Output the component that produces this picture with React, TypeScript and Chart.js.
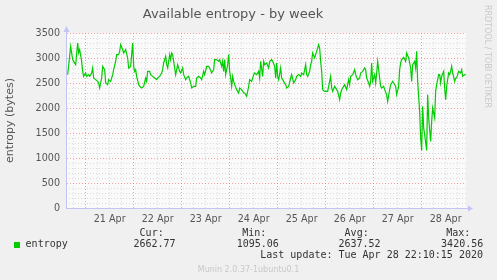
import React, { useEffect, useRef } from "react";
import { Chart, registerables } from "chart.js";

Chart.register(...registerables);

// Hours since 20 Apr 2020 00:00
const hours = [
  15, 16.5, 17.5, 18, 19, 20, 20.5, 21, 22, 22.5, 23, 24, 24.5, 25.5, 26, 27, 27.5, 28, 29, 30, 30.5, 31, 32, 32.5, 33.5, 34, 35, 35.5, 36.5, 37.5, 38, 39, 39.5, 40.5, 41, 41.5, 42.5, 43, 44, 45, 45.5, 46.5, 47.5,
  48, 48.5, 49, 49.5, 50.5, 51.5, 52, 53, 54, 54.5, 55, 56, 56.5, 57.5, 58.5, 59.5, 60, 61, 62, 62.5, 63, 64, 64.5, 65, 66, 66.5, 67, 67.5, 68, 68.5, 69, 70, 71, 71.5, 72.5, 73, 74, 74.5, 75.5, 76.5, 77, 78, 79, 79.5, 80.5, 81.5,
  82, 83, 83.5, 84.5, 85.5, 86, 87, 88, 88.5, 89.5, 90.5, 91, 92, 92.5, 93, 93.5, 94, 95, 95.5, 96, 96.5, 97, 97.5, 98, 98.5, 99.5, 100.5, 101, 102, 103, 103.5, 104.5, 105.5, 106, 107, 108, 108.5, 109.5, 110.5, 111, 111.5, 112.5, 113, 113.5, 114.5, 115.5,
  116, 117, 117.5, 118.5, 119, 119.5, 120, 120.5, 121.5, 122, 122.5, 123, 124, 124.5, 125.5, 126.5, 127, 128, 129, 129.5, 130.5, 131.5, 132, 133, 134, 134.5, 135, 136, 136.5, 137, 137.5, 138.5, 139, 139.5, 140.5, 141, 141.5, 142, 142.5, 143.5, 144.5, 145, 146, 146.5, 147, 147.5, 148.5, 149.5,
  150, 151, 151.5, 152, 153, 153.5, 154.5, 155.5, 156, 156.5, 157.5, 158.5, 159, 160, 161, 161.5, 162.5, 163.5, 164, 164.5, 165.5, 166, 166.5, 167, 167.5, 168.5, 169, 169.5, 170, 171, 171.5, 172, 173, 173.5, 174.5, 175, 176, 176.5, 177.5, 178, 179, 179.5, 180.5, 181, 181.5,
  182, 183, 184, 184.5, 185.5, 186.5, 187, 187.5, 188.5, 189, 189.5, 190, 191, 191.5, 192, 192.5, 193, 193.5, 194.5, 195, 195.5, 196.5, 197, 197.5, 198.5, 199, 199.5, 200.5, 201, 201.5, 202, 203, 203.5, 204, 204.5, 205.5, 206, 206.5, 207, 207.5, 208.5, 209, 209.5, 210.5, 211.5, 212, 212.5, 213.5, 214,
];

const entropy = [
  2666, 3233, 2967, 2933, 2867, 3300, 3100, 3167, 2933, 2733, 2633, 2700, 2633, 2667, 2633, 2700, 2800, 2600, 2567, 2533, 2500, 2400, 2600, 2833, 2767, 2500, 2467, 2567, 2533, 2667, 2767, 2933, 3067, 3067, 3133, 3267, 3167, 3100, 3167, 3000, 2800, 2833, 3300,
  2833, 2733, 2767, 2633, 2467, 2413, 2400, 2433, 2600, 2533, 2733, 2733, 2667, 2633, 2600, 2567, 2600, 2633, 2700, 2767, 2900, 3033, 2867, 2800, 3067, 2967, 3100, 3067, 2933, 2800, 2667, 2867, 2733, 2700, 2800, 2667, 2567, 2600, 2633, 2500, 2400, 2433, 2433, 2600, 2633, 2600,
  2567, 2733, 2667, 2833, 2833, 2800, 2700, 2767, 2967, 2967, 2933, 2967, 2833, 2933, 2733, 2967, 2667, 2867, 3067, 2733, 2600, 2433, 2633, 2533, 2467, 2367, 2300, 2400, 2367, 2300, 2300, 2233, 2433, 2567, 2533, 2667, 2700, 2667, 2733, 2600, 2933, 2633, 2933, 2867, 2900, 2800,
  2933, 2967, 2933, 2833, 2600, 2900, 2633, 2567, 2800, 2600, 2567, 2533, 2467, 2400, 2433, 2600, 2667, 2500, 2567, 2633, 2667, 2633, 2700, 2667, 2867, 2667, 2633, 2733, 2867, 2933, 3100, 3000, 3067, 3133, 3267, 3200, 2933, 2733, 2367, 2333, 2333, 2333, 2533, 2633, 2400, 2333, 2433, 2367,
  2333, 2167, 2300, 2367, 2433, 2467, 2367, 2567, 2467, 2633, 2667, 2767, 2667, 2567, 2600, 2700, 2733, 2800, 2767, 2600, 2500, 2433, 2533, 2900, 2533, 2667, 2500, 2700, 2933, 2600, 2433, 2400, 2433, 2367, 2267, 2133, 2367, 2467, 2533, 2500, 2433, 2267, 2433, 2767, 2900,
  2967, 3013, 2933, 3100, 3000, 2800, 2533, 2867, 2933, 2800, 3133, 2533, 1933, 1400, 1150, 2033, 1600, 1467, 1150, 2267, 1800, 1333, 1733, 2000, 1800, 2333, 2467, 2667, 2667, 2500, 2633, 2733, 2400, 2167, 2433, 2700, 2667, 2733, 2833, 2700, 2533, 2600, 2600, 2733, 2700, 2767, 2633, 2667, 2663,
];

const xStartHour = 14.17;
const xEndHour = 214.17;
const dayTickHours = [36, 60, 84, 108, 132, 156, 180, 204];
const dayTickLabels = ["21 Apr", "22 Apr", "23 Apr", "24 Apr", "25 Apr", "26 Apr", "27 Apr", "28 Apr"];
const midnightHours = [24, 48, 72, 96, 120, 144, 168, 192];
const quarterDayHours: number[] = [];
for (let h = 18; h <= 210; h += 6) if (h % 24 !== 0) quarterDayHours.push(h);
const yMajorTicks = [0, 500, 1000, 1500, 2000, 2500, 3000, 3500];
const yMinorTicks: number[] = [];
for (let v = 100; v < 3500; v += 100) if (v % 500 !== 0) yMinorTicks.push(v);

const seriesName = "entropy";
const statLabels = ["Cur:", "Min:", "Avg:", "Max:"];
const statValues = ["2662.77", "1095.06", "2637.52", "3420.56"];
const lastUpdate = "Last update: Tue Apr 28 22:10:15 2020";
const titleText = "Available entropy - by week";
const yTitle = "entropy (bytes)";
const footerText = "Munin 2.0.37-1ubuntu0.1";
const sideText = "RRDTOOL / TOBI OETIKER";

const AXIS = "#c4c4f4";
const RED_GRID = "rgba(240,90,90,0.55)";
const GRAY_GRID = "rgba(150,150,150,0.3)";
const SANS = "'DejaVu Sans', sans-serif";
const MONO = "'DejaVu Sans Mono', monospace";

const decor = {
  id: "muninDecor",
  beforeDraw(chart: any) {
    const { ctx, chartArea: a } = chart;
    ctx.save();
    ctx.fillStyle = "#fafafa";
    ctx.fillRect(a.left, a.top, a.right - a.left, a.bottom - a.top);
    ctx.restore();
  },
  afterDraw(chart: any) {
    const { ctx, chartArea: a } = chart;
    ctx.save();
    ctx.strokeStyle = AXIS;
    ctx.fillStyle = AXIS;
    ctx.lineWidth = 1;
    const lx = Math.round(a.left) + 0.5;
    const by = Math.round(a.bottom) + 0.5;
    ctx.beginPath();
    ctx.moveTo(lx, a.top);
    ctx.lineTo(lx, a.top - 3);
    ctx.moveTo(a.right, by);
    ctx.lineTo(a.right + 3, by);
    ctx.stroke();
    ctx.beginPath();
    ctx.moveTo(lx - 3, a.top - 1);
    ctx.lineTo(lx + 3, a.top - 1);
    ctx.lineTo(lx, a.top - 7);
    ctx.closePath();
    ctx.fill();
    ctx.beginPath();
    ctx.moveTo(a.right + 2, by - 3);
    ctx.lineTo(a.right + 2, by + 3);
    ctx.lineTo(a.right + 7, by);
    ctx.closePath();
    ctx.fill();
    ctx.restore();
  },
};

export default function App() {
  const ref = useRef<HTMLCanvasElement | null>(null);

  useEffect(() => {
    if (!ref.current) return;
    const points = hours.map((h, i) => ({ x: h, y: entropy[i] }));
    const chart = new Chart(ref.current, {
      type: "line",
      data: {
        datasets: [
          {
            label: seriesName,
            data: points,
            borderColor: "#00cc00",
            borderWidth: 1.2,
            pointRadius: 0,
            tension: 0,
            fill: false,
          },
        ],
      },
      options: {
        animation: false,
        responsive: false,
        devicePixelRatio: 1,
        events: [],
        layout: { padding: { left: 0, right: 31, top: 0, bottom: 52 } },
        plugins: {
          legend: { display: false },
          tooltip: { enabled: false },
          title: {
            display: true,
            text: titleText,
            color: "#555",
            font: { family: SANS, size: 13, weight: "normal" },
            padding: { top: 6.5, bottom: 10.9 },
          },
        },
        scales: {
          xMinor: {
            type: "linear",
            position: "bottom",
            min: xStartHour,
            max: xEndHour,
            afterBuildTicks: (s: any) => {
              s.ticks = quarterDayHours.map((v) => ({ value: v }));
            },
            afterFit: (s: any) => {
              s.height = 0;
            },
            ticks: { display: false },
            grid: { color: GRAY_GRID, drawTicks: false, z: -2 },
            border: { display: false, dash: [1, 2] },
          },
          xMajor: {
            type: "linear",
            position: "bottom",
            min: xStartHour,
            max: xEndHour,
            afterBuildTicks: (s: any) => {
              s.ticks = midnightHours.map((v) => ({ value: v }));
            },
            afterFit: (s: any) => {
              s.height = 0;
            },
            ticks: { display: false },
            grid: { color: RED_GRID, drawTicks: false, z: -1 },
            border: { display: false, dash: [1, 2] },
          },
          x: {
            type: "linear",
            position: "bottom",
            min: xStartHour,
            max: xEndHour,
            afterBuildTicks: (s: any) => {
              s.ticks = dayTickHours.map((v) => ({ value: v }));
            },
            afterFit: (s: any) => {
              s.height = 20;
            },
            ticks: {
              autoSkip: false,
              maxRotation: 0,
              padding: 6,
              color: "#555",
              font: { family: SANS, size: 9.6 },
              callback: (_v: any, i: number) => dayTickLabels[i],
            },
            grid: { display: false, drawTicks: false },
            border: { display: true, color: AXIS, width: 1 },
          },
          yMinor: {
            type: "linear",
            position: "left",
            min: 0,
            max: 3500,
            afterBuildTicks: (s: any) => {
              s.ticks = yMinorTicks.map((v) => ({ value: v }));
            },
            afterFit: (s: any) => {
              s.width = 0;
            },
            ticks: { display: false },
            grid: { color: GRAY_GRID, drawTicks: false, z: -2 },
            border: { display: false, dash: [1, 2] },
          },
          y: {
            type: "linear",
            position: "left",
            min: 0,
            max: 3500,
            afterBuildTicks: (s: any) => {
              s.ticks = yMajorTicks.map((v) => ({ value: v }));
            },
            afterFit: (s: any) => {
              s.width = 66;
            },
            ticks: {
              padding: 6,
              color: "#555",
              font: { family: SANS, size: 9.6 },
              callback: (v: any) => String(v),
            },
            grid: { color: RED_GRID, drawTicks: false, z: -1 },
            border: { display: true, color: AXIS, width: 1, dash: [1, 2] },
            title: {
              display: true,
              text: yTitle,
              color: "#555",
              font: { family: SANS, size: 11 },
              padding: { top: 4, bottom: 0 },
            },
          },
        },
      },
      plugins: [decor],
    } as any);
    return () => chart.destroy();
  }, []);

  const statLabelLeft = [139.6, 242.3, 344.6, 446.3];
  const statValueLeft = [133.4, 236.7, 338.4, 441.1];
  const mono: React.CSSProperties = {
    position: "absolute",
    fontFamily: MONO,
    fontSize: "10px",
    lineHeight: "12px",
    color: "#333",
    whiteSpace: "pre",
  };

  return (
    <div
      style={{
        position: "absolute",
        left: 0,
        top: 0,
        width: 497,
        height: 280,
        background: "#f0f0f0",
        overflow: "hidden",
      }}
    >
      <canvas ref={ref} width={497} height={280} style={{ position: "absolute", left: 0, top: 0, width: 497, height: 280 }} />
      <div
        style={{
          position: "absolute",
          left: 482.8,
          top: 5,
          writingMode: "vertical-rl",
          fontFamily: SANS,
          fontSize: "8px",
          lineHeight: "9px",
          color: "#c8c8c8",
          whiteSpace: "nowrap",
        }}
      >
        {sideText}
      </div>
      {statLabels.map((t, i) => (
        <span key={"l" + i} style={{ ...mono, left: statLabelLeft[i], top: 227.3 }}>
          {t}
        </span>
      ))}
      <div style={{ position: "absolute", left: 14, top: 241.5, width: 6, height: 6, background: "#00cc00" }} />
      <span style={{ ...mono, left: 25.6, top: 238 }}>{seriesName}</span>
      {statValues.map((t, i) => (
        <span key={"v" + i} style={{ ...mono, left: statValueLeft[i], top: 238 }}>
          {t}
        </span>
      ))}
      <span style={{ ...mono, right: 497 - 483, top: 249.2, textAlign: "right" }}>{lastUpdate}</span>
      <div
        style={{
          position: "absolute",
          left: 0,
          top: 264.5,
          width: 497,
          textAlign: "center",
          fontFamily: SANS,
          fontSize: "8px",
          lineHeight: "10px",
          color: "#c8c8c8",
          whiteSpace: "nowrap",
        }}
      >
        {footerText}
      </div>
    </div>
  );
}
